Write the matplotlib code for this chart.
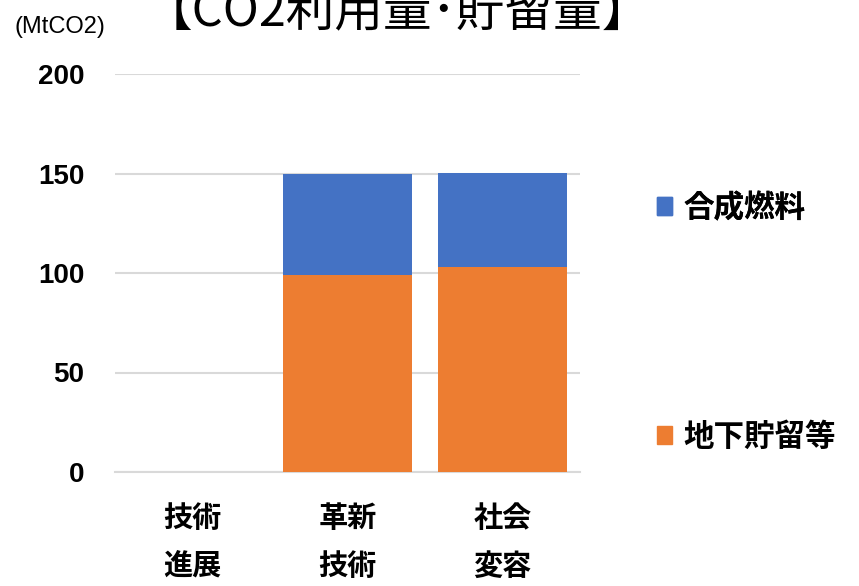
import matplotlib
matplotlib.use('Agg')
import matplotlib.pyplot as plt
from matplotlib.patches import Patch

plt.rcParams['font.family'] = ['Noto Sans CJK JP', 'DejaVu Sans']

categories = ['技術\n進展', '革新\n技術', '社会\n変容']
storage = [0, 99, 103]     # 地下貯留等
synfuel = [0, 51, 47]      # 合成燃料
yticks = [0, 50, 100, 150, 200]

blue = '#4472c4'
orange = '#ed7d31'

fig = plt.figure(figsize=(8.59, 5.86), dpi=100)
ax = fig.add_axes([115/859, 1-472/586, 465/859, 398/586])

x = range(len(categories))
ax.bar(x, storage, width=0.83, color=orange, zorder=3)
ax.bar(x, synfuel, width=0.83, bottom=storage, color=blue, zorder=3)

ax.set_xlim(-0.5, 2.5)
ax.set_ylim(0, 200)
ax.set_yticks(yticks)
ax.set_yticklabels([str(v) for v in yticks], fontsize=20, fontweight='bold',
                   family='Liberation Sans')
ax.set_xticks(list(x))
ax.set_xticklabels(categories, fontsize=21, fontweight='bold', linespacing=1.75)
ax.tick_params(axis='y', length=0, pad=22)
ax.tick_params(axis='x', length=0, pad=22)
ax.grid(axis='y', color='#d9d9d9', linewidth=1.5, zorder=0)
for s in ['top', 'right', 'left']:
    ax.spines[s].set_visible(False)
ax.spines['bottom'].set_color('#d9d9d9')
ax.spines['bottom'].set_linewidth(1.5)

fig.text(397/859, 1-12/586, '【CO2利用量･貯留量】', fontsize=35,
         ha='center', va='center')
fig.text(15/859, 1-27/586, '(MtCO2)', fontsize=17, ha='left', va='center',
         family='Liberation Sans')

legend_kw = dict(loc='center left', frameon=False,
                 prop={'size': 22, 'weight': 'bold'},
                 handlelength=0.5, handleheight=0.5, handletextpad=0.36,
                 borderpad=0, borderaxespad=0)
leg1 = fig.legend(handles=[Patch(color=blue, label='合成燃料')],
                  bbox_to_anchor=(657/859, 1-208/586), **legend_kw)
fig.add_artist(leg1)
fig.legend(handles=[Patch(color=orange, label='地下貯留等')],
           bbox_to_anchor=(657/859, 1-437/586), **legend_kw)

fig.savefig('out.png', dpi=100)
